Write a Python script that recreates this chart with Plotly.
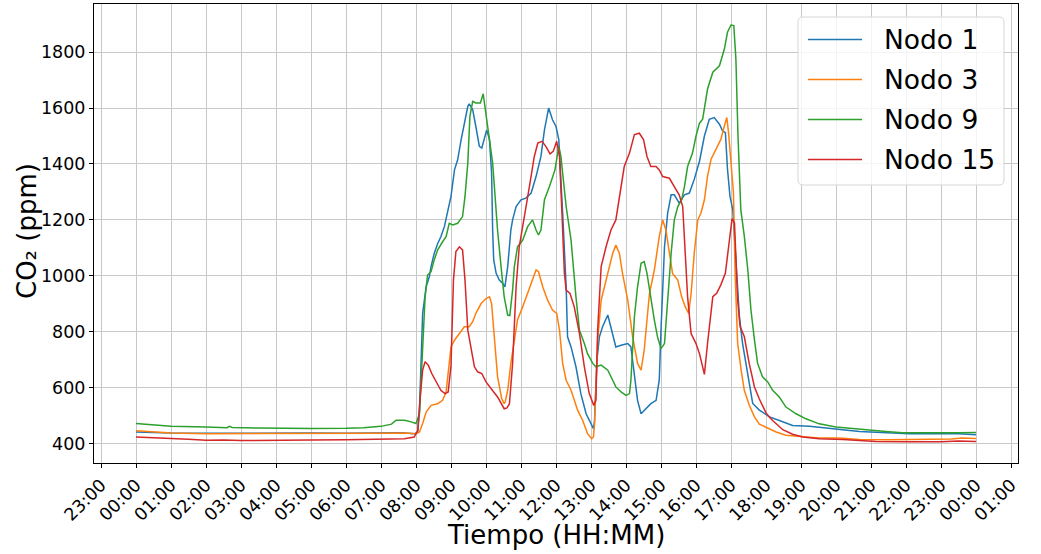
import pandas as pd
import plotly.graph_objects as go

# Time of day in decimal hours and CO2 concentration (ppm) for each node
hora_n1 = [0.0, 1.0, 2.0, 3.0, 4.0, 5.0, 6.0, 7.0, 7.6, 7.95, 8.05, 8.1, 8.14, 8.19, 8.29, 8.38, 8.43,
           8.52, 8.62, 8.71, 8.81, 8.9, 9.0, 9.1, 9.19, 9.29, 9.38, 9.48, 9.52, 9.62, 9.71, 9.81,
           9.88, 9.95, 10.02, 10.1, 10.16, 10.19, 10.22, 10.29, 10.38, 10.48, 10.54, 10.62, 10.71,
           10.76, 10.86, 11.0, 11.14, 11.29, 11.43, 11.57, 11.67, 11.79, 11.9, 12.0, 12.08, 12.19,
           12.29, 12.33, 12.43, 12.57, 12.71, 12.86, 13.0, 13.07, 13.1, 13.17, 13.24, 13.33, 13.48,
           13.57, 13.71, 13.86, 14.05, 14.14, 14.24, 14.33, 14.43, 14.57, 14.71, 14.86, 14.95, 15.0,
           15.1, 15.19, 15.29, 15.38, 15.52, 15.67, 15.81, 15.95, 16.1, 16.24, 16.38, 16.52, 16.67,
           16.76, 16.84, 16.9, 16.97, 17.05, 17.14, 17.24, 17.33, 17.48, 17.62, 17.81, 18.1, 18.38,
           18.76, 19.24, 19.71, 20.19, 20.67, 21.14, 21.62, 22.1, 23.0, 23.5, 24.0]
co2_n1 = [442, 438, 437, 438, 437, 438, 437, 438, 439, 436, 440, 520, 687, 866, 961, 997, 1033,
          1080, 1116, 1140, 1176, 1224, 1284, 1379, 1415, 1487, 1546, 1606, 1615, 1594, 1534, 1463,
          1457, 1487, 1522, 1487, 1367, 1164, 1057, 1009, 985, 973, 961, 1033, 1164,
          1200, 1248, 1272, 1278, 1296, 1355, 1427, 1522, 1600, 1558, 1534, 1487, 1224,
          961, 782, 746, 675, 579, 507, 472, 454, 480, 700, 782, 818, 860,
          818, 746, 752, 758, 746, 651, 555, 507, 525, 543, 555, 627, 806,
          1104, 1224, 1290, 1290, 1260, 1290, 1296, 1345, 1410, 1500, 1560, 1566, 1542,
          1518, 1512, 1381, 1285, 1237, 1058, 854, 759, 651, 544, 520, 496, 483,
          465, 462, 457, 450, 444, 442, 438, 436, 436, 436, 432]

hora_n3 = [0.0, 1.0, 2.0, 3.0, 4.0, 5.0, 6.0, 7.0, 7.67, 8.0, 8.1, 8.19, 8.29, 8.43, 8.62, 8.76,
           8.86, 8.92, 9.0, 9.1, 9.24, 9.38, 9.52, 9.62, 9.71, 9.86, 10.0, 10.1, 10.16, 10.24, 10.33,
           10.45, 10.52, 10.55, 10.62, 10.71, 10.81, 10.9, 11.05, 11.19, 11.33, 11.43, 11.5, 11.62,
           11.76, 11.9, 12.02, 12.1, 12.19, 12.29, 12.43, 12.62, 12.76, 12.9, 13.02, 13.07, 13.1,
           13.14, 13.19, 13.29, 13.43, 13.52, 13.62, 13.71, 13.81, 13.9, 14.05, 14.19, 14.33, 14.43,
           14.52, 14.67, 14.81, 14.95, 15.05, 15.14, 15.24, 15.33, 15.48, 15.59, 15.69, 15.79, 15.86,
           15.95, 16.05, 16.14, 16.24, 16.33, 16.43, 16.57, 16.71, 16.81, 16.88, 16.93, 17.0, 17.07,
           17.12, 17.19, 17.29, 17.38, 17.52, 17.67, 17.81, 18.0, 18.29, 18.57, 18.95, 19.52, 20.1,
           20.67, 21.5, 22.5, 23.3, 23.6, 24.0]
co2_n3 = [446, 438, 436, 436, 435, 436, 436, 437, 438, 436, 442, 472, 513, 537, 543, 555,
          585, 651, 746, 770, 794, 818, 818, 836, 866, 901, 919, 925, 901, 770, 640,
          560, 543, 550, 591, 687, 770, 842, 890, 937, 985, 1021, 1015, 961,
          913, 878, 866, 806, 687, 627, 591, 519, 484, 436, 418, 424, 470,
          627, 770, 913, 985, 1027, 1081, 1110, 1081, 1009, 913, 782, 687, 663,
          734, 937, 1021, 1140, 1200, 1164, 1081, 1009, 985, 925, 890, 866, 937,
          1081, 1200, 1224, 1272, 1357, 1417, 1452, 1488, 1536, 1566, 1512, 1417, 1297,
          998, 759, 663, 591, 538, 496, 470, 458, 442, 430, 426, 420, 420,
          415, 414, 415, 417, 420, 419]

hora_n9 = [0.0, 0.5, 1.0, 2.0, 2.6, 2.67, 2.75, 3.5, 4.0, 5.0, 6.0, 6.5, 7.0, 7.3, 7.43, 7.67,
           7.86, 8.0, 8.1, 8.19, 8.26, 8.33, 8.43, 8.52, 8.62, 8.76, 8.86, 8.95, 9.05, 9.19, 9.33,
           9.4, 9.48, 9.54, 9.62, 9.71, 9.84, 9.92, 9.98, 10.1, 10.19, 10.26, 10.33, 10.43, 10.52,
           10.62, 10.68, 10.76, 10.81, 10.9, 11.05, 11.19, 11.33, 11.43, 11.5, 11.57, 11.67, 11.81,
           11.97, 12.08, 12.14, 12.29, 12.43, 12.57, 12.67, 12.81, 12.9, 13.05, 13.14, 13.29, 13.48,
           13.62, 13.71, 13.86, 14.0, 14.1, 14.14, 14.24, 14.33, 14.43, 14.52, 14.6, 14.71, 14.81,
           14.9, 15.0, 15.1, 15.19, 15.29, 15.38, 15.48, 15.59, 15.67, 15.76, 15.9, 16.0, 16.1,
           16.19, 16.33, 16.48, 16.67, 16.81, 16.9, 17.0, 17.08, 17.14, 17.2, 17.28, 17.38, 17.48,
           17.57, 17.67, 17.76, 17.9, 18.05, 18.19, 18.38, 18.57, 18.86, 19.14, 19.52, 20.0, 20.48,
           20.95, 21.43, 21.9, 22.5, 23.0, 23.5, 24.0]
co2_n9 = [472, 466, 462, 460, 457, 462, 458, 456, 455, 454, 455, 457, 462, 470, 484, 484,
          478, 472, 507, 746, 925, 1003, 1015, 1057, 1093, 1122, 1140, 1188, 1182, 1188, 1212,
          1284, 1403, 1570, 1624, 1618, 1618, 1651, 1594, 1475, 1403, 1284, 1164, 1033, 925,
          860, 858, 949, 1033, 1104, 1128, 1176, 1200, 1164, 1146, 1164, 1272, 1319,
          1379, 1463, 1427, 1248, 1128, 925, 806, 758, 722, 687, 675, 681, 663,
          627, 603, 585, 573, 579, 627, 854, 961, 1045, 1051, 1009, 913, 842,
          782, 740, 758, 925, 1081, 1200, 1248, 1272, 1319, 1391, 1439, 1500, 1546,
          1560, 1668, 1728, 1751, 1811, 1871, 1897, 1895, 1775, 1500, 1237, 1142, 1022,
          878, 771, 687, 639, 621, 591, 567, 531, 507, 489, 471, 460, 454,
          450, 444, 439, 438, 438, 439, 440]

hora_n15 = [0.0, 0.5, 1.0, 1.5, 2.0, 2.5, 3.0, 4.0, 5.0, 6.0, 7.0, 7.67, 7.95, 8.05, 8.12, 8.19,
            8.26, 8.35, 8.45, 8.57, 8.71, 8.83, 8.92, 9.0, 9.07, 9.14, 9.24, 9.33, 9.4, 9.48, 9.57,
            9.67, 9.76, 9.88, 10.0, 10.1, 10.22, 10.33, 10.43, 10.52, 10.6, 10.67, 10.76, 10.86,
            10.95, 11.1, 11.24, 11.38, 11.48, 11.6, 11.71, 11.83, 11.92, 12.02, 12.1, 12.17, 12.24,
            12.29, 12.4, 12.52, 12.67, 12.81, 12.95, 13.08, 13.14, 13.19, 13.29, 13.43, 13.57, 13.71,
            13.81, 13.95, 14.1, 14.24, 14.38, 14.5, 14.6, 14.71, 14.86, 14.95, 15.05, 15.24, 15.38,
            15.52, 15.62, 15.69, 15.76, 15.86, 16.0, 16.1, 16.24, 16.33, 16.48, 16.59, 16.71, 16.84,
            16.95, 17.03, 17.1, 17.14, 17.19, 17.26, 17.38, 17.52, 17.67, 17.81, 18.0, 18.1, 18.19,
            18.48, 18.76, 19.05, 19.52, 20.2, 20.7, 21.14, 22.0, 23.0, 23.5, 24.0]
co2_n15 = [424, 422, 420, 416, 412, 413, 411, 411, 413, 414, 416, 418, 424, 448, 567, 663,
           693, 681, 651, 621, 591, 579, 585, 680, 985, 1087, 1104, 1093, 985, 806, 746,
           675, 657, 651, 621, 603, 585, 567, 543, 525, 528, 543, 687, 961,
           1104, 1224, 1319, 1427, 1475, 1481, 1463, 1436, 1445, 1481, 1427, 1224, 1009,
           949, 937, 890, 794, 675, 579, 537, 555, 806, 1033, 1104, 1164, 1200,
           1284, 1391, 1439, 1505, 1510, 1487, 1427, 1391, 1391, 1379, 1355, 1349, 1319,
           1290, 1248, 1104, 925, 794, 758, 722, 648, 759, 926, 938, 968, 1010,
           1118, 1205, 1189, 1058, 914, 819, 783, 687, 603, 560, 510, 495, 483,
           450, 434, 424, 418, 415, 412, 408, 407, 407, 410, 408]

nodos = ["Nodo 1", "Nodo 3", "Nodo 9", "Nodo 15"]
colores = ["#1f77b4", "#ff7f0e", "#2ca02c", "#d62728"]
series = [(hora_n1, co2_n1), (hora_n3, co2_n3), (hora_n9, co2_n9), (hora_n15, co2_n15)]
y_ticks = [400, 600, 800, 1000, 1200, 1400, 1600, 1800]

dia = pd.Timestamp("2023-03-15")
font = "DejaVu Sans"

# Plot area in pixels (figure 1041 x 554)
W, H = 1041, 554
L, R, T, B = 94, 1018, 4, 463


def a_fecha(horas):
    return [dia + pd.to_timedelta(h, unit="h") for h in horas]


def dx(px):
    return (px - L) / (R - L)


def dy(py):
    return (B - py) / (B - T)


fig = go.Figure()
for nombre, color, (h, v) in zip(nodos, colores, series):
    fig.add_trace(go.Scatter(x=a_fecha(h), y=v, mode="lines", name=nombre,
                             showlegend=False, line=dict(color=color, width=1.5)))

# Legend box with rounded corners, drawn in axis-domain coordinates
bx0, bx1, by0, by1, rad = 798, 1004, 17, 185, 5
rx, ry = rad / (R - L), rad / (B - T)
x0, x1, y0, y1 = dx(bx0), dx(bx1), dy(by1), dy(by0)
caja = (f"M {x0 + rx} {y0} L {x1 - rx} {y0} Q {x1} {y0} {x1} {y0 + ry} "
        f"L {x1} {y1 - ry} Q {x1} {y1} {x1 - rx} {y1} L {x0 + rx} {y1} "
        f"Q {x0} {y1} {x0} {y1 - ry} L {x0} {y0 + ry} Q {x0} {y0} {x0 + rx} {y0} Z")
shapes = [dict(type="path", path=caja, xref="x domain", yref="y domain",
               fillcolor="rgba(255,255,255,0.8)", line=dict(color="#d6d6d6", width=1),
               layer="above")]
annotations = []
for i, (nombre, color) in enumerate(zip(nodos, colores)):
    fila = 39.5 + 40 * i
    shapes.append(dict(type="line", xref="x domain", yref="y domain",
                       x0=dx(808), x1=dx(862), y0=dy(fila), y1=dy(fila),
                       line=dict(color=color, width=1.5), layer="above"))
    annotations.append(dict(text=nombre, xref="x domain", yref="y domain",
                            x=dx(882), y=dy(fila), xanchor="left", yanchor="middle",
                            showarrow=False, font=dict(size=26.5, family=font, color="black")))

# Axis titles
annotations.append(dict(text="CO₂ (ppm)", xref="paper", yref="paper", x=dx(27), y=dy(231),
                        xanchor="center", yanchor="middle", textangle=-90, showarrow=False,
                        font=dict(size=26, family=font, color="black")))
annotations.append(dict(text="Tiempo (HH:MM)", xref="paper", yref="paper", x=0.5, y=dy(535),
                        xanchor="center", yanchor="middle", showarrow=False,
                        font=dict(size=26, family=font, color="black")))

fig.update_layout(
    width=W, height=H,
    margin=dict(l=L, r=W - R, t=T, b=H - B),
    paper_bgcolor="white", plot_bgcolor="white",
    font=dict(family=font, color="black"),
    showlegend=False,
    shapes=shapes,
    annotations=annotations,
)
fig.update_xaxes(
    type="date",
    range=[dia - pd.Timedelta(hours=1.2), dia + pd.Timedelta(hours=25.2)],
    tick0=dia, dtick=3600000, tickformat="%H:%M", tickangle=-45,
    tickfont=dict(size=17.5, family=font),
    ticks="outside", ticklen=4, tickcolor="black",
    showline=True, linecolor="black", linewidth=1, mirror=True,
    showgrid=True, gridcolor="#c8c8c8", gridwidth=1, zeroline=False,
)
fig.update_yaxes(
    range=[331, 1972],
    tickvals=y_ticks,
    tickfont=dict(size=17.5, family=font),
    ticks="outside", ticklen=4, tickcolor="black",
    showline=True, linecolor="black", linewidth=1, mirror=True,
    showgrid=True, gridcolor="#c8c8c8", gridwidth=1, zeroline=False,
)

fig.write_html("out.html")
